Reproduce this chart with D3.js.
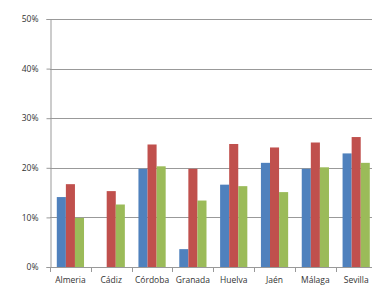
<!DOCTYPE html>
<html>
<head>
<meta charset="utf-8">
<script src="https://cdn.jsdelivr.net/npm/d3@7"></script>
<style>
  body { margin: 0; background: #fff; }
  svg { display: block; }
  text { font-family: "Open Sans", "Liberation Sans", sans-serif; font-size: 8.5px; fill: #333; }
</style>
</head>
<body>
<svg id="chart" width="372" height="286"></svg>
<script>
let provinces = ["Almeria", "Cádiz", "Córdoba", "Granada", "Huelva", "Jaén", "Málaga", "Sevilla"]
let seriesNames = ["s1", "s2", "s3"]
let serie1 = [14.1, 0, 19.8, 3.6, 16.6, 21.0, 19.8, 22.9]
let serie2 = [16.7, 15.3, 24.7, 19.8, 24.8, 24.1, 25.1, 26.2]
let serie3 = [9.9, 12.6, 20.3, 13.4, 16.3, 15.1, 20.1, 21.0]
let yTicks = [0, 10, 20, 30, 40, 50]
let colors = ["#4f81bd", "#c0504d", "#9bbb59"]

let svg = d3.select("#chart")
let plotLeft = 50, plotRight = 376.6, plotTop = 19, plotBottom = 267

let y = d3.scaleLinear().domain([0, 50]).range([plotBottom, plotTop])
let x0 = d3.scaleBand().domain(provinces).range([plotLeft, plotRight]).padding(0)
let x1 = d3.scaleBand().domain(seriesNames).range([6.8, x0.bandwidth() - 6.8])

// gridlines
svg.append("g")
    .selectAll("line")
    .data(yTicks.slice(1))
    .enter()
    .append("line")
    .attr("x1", plotLeft)
    .attr("x2", 372)
    .attr("y1", d => Math.round(y(d)) + 0.5)
    .attr("y2", d => Math.round(y(d)) + 0.5)
    .attr("stroke", "#999")
    .attr("stroke-width", 1)

// bars
let rows = provinces.map((p, i) => ({ p: p, v: [serie1[i], serie2[i], serie3[i]] }))
let groups = svg.append("g")
    .selectAll("g")
    .data(rows)
    .enter()
    .append("g")
    .attr("transform", d => "translate(" + x0(d.p) + ",0)")

groups.selectAll("rect")
    .data(d => d.v.map((v, j) => ({ s: seriesNames[j], v: v, c: colors[j] })))
    .enter()
    .append("rect")
    .attr("x", d => x1(d.s))
    .attr("width", x1.bandwidth())
    .attr("y", d => y(d.v))
    .attr("height", d => y(0) - y(d.v))
    .attr("fill", d => d.c)

// y axis
let yAxis = d3.axisLeft(y)
    .tickValues(yTicks)
    .tickFormat(d => d + "%")
    .tickSize(4)
    .tickPadding(8)
let gy = svg.append("g")
    .attr("transform", "translate(" + (plotLeft + 0.5) + ",0)")
    .call(yAxis)
gy.select(".domain").attr("stroke", "#999")
gy.selectAll(".tick line").attr("stroke", "#999")
gy.selectAll("text").attr("fill", "#333")

// x axis line and category separators
svg.append("line")
    .attr("x1", plotLeft)
    .attr("x2", 372)
    .attr("y1", plotBottom + 0.5)
    .attr("y2", plotBottom + 0.5)
    .attr("stroke", "#999")

svg.append("g")
    .selectAll("line")
    .data(provinces)
    .enter()
    .append("line")
    .attr("x1", d => Math.round(x0(d)) + 0.5)
    .attr("x2", d => Math.round(x0(d)) + 0.5)
    .attr("y1", plotBottom)
    .attr("y2", plotBottom + 5)
    .attr("stroke", "#999")

svg.append("g")
    .selectAll("text")
    .data(provinces)
    .enter()
    .append("text")
    .attr("x", d => x0(d) + x0.bandwidth() / 2)
    .attr("y", 283)
    .attr("text-anchor", "middle")
    .text(d => d)
</script>
</body>
</html>
